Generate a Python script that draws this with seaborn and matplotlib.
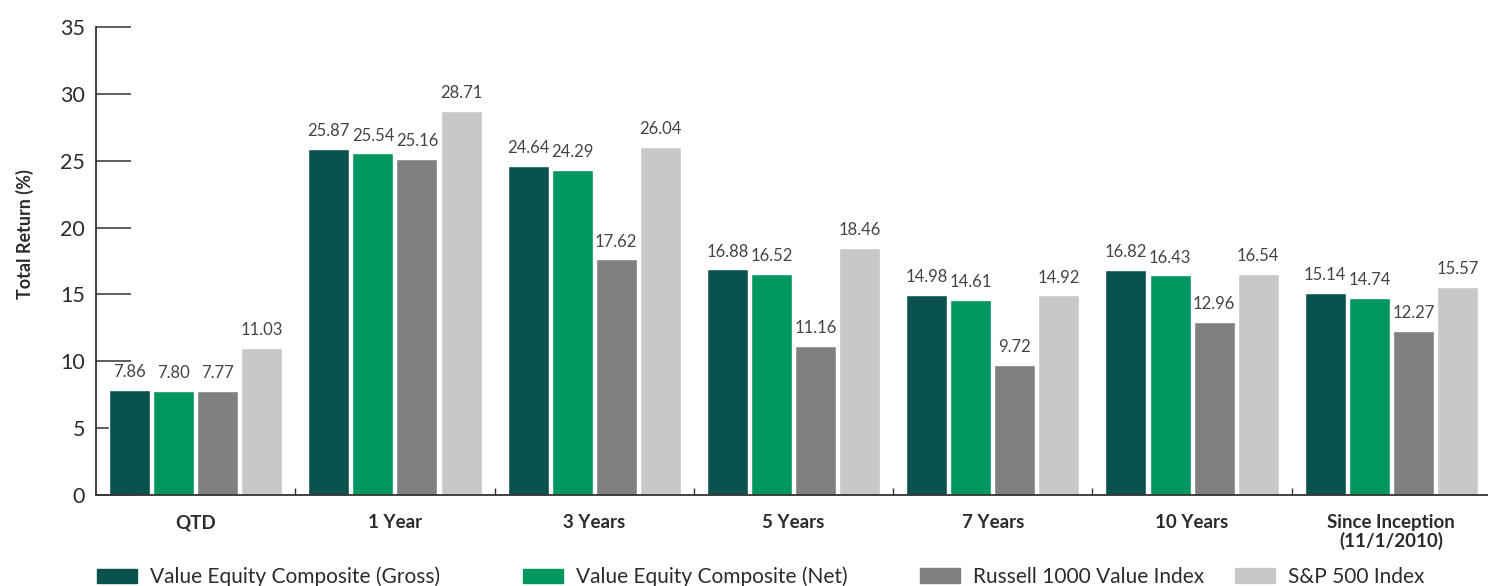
import matplotlib
matplotlib.use('Agg')
import matplotlib.pyplot as plt
import pandas as pd
import seaborn as sns

# Data
periods = ['QTD', '1 Year', '3 Years', '5 Years', '7 Years', '10 Years', 'Since Inception\n(11/1/2010)']
series = ['Value Equity Composite (Gross)', 'Value Equity Composite (Net)',
          'Russell 1000 Value Index', 'S&P 500 Index']
gross = [7.86, 25.87, 24.64, 16.88, 14.98, 16.82, 15.14]
net = [7.80, 25.54, 24.29, 16.52, 14.61, 16.43, 14.74]
russell = [7.77, 25.16, 17.62, 11.16, 9.72, 12.96, 12.27]
sp500 = [11.03, 28.71, 26.04, 18.46, 14.92, 16.54, 15.57]
colors = ['#0a524d', '#009660', '#808080', '#c8c8c7']

rows = []
for name, vals in zip(series, [gross, net, russell, sp500]):
    for p, v in zip(periods, vals):
        rows.append({'period': p, 'series': name, 'value': v})
df = pd.DataFrame(rows)

sns.set_style('white')
plt.rcParams['font.family'] = ['Lato', 'DejaVu Sans']

fig = plt.figure(figsize=(14.88, 5.86), dpi=100)
ax = fig.add_axes([96 / 1488, 1 - 495 / 586, 1 - 96 / 1488 + 0.002, (495 - 27) / 586])

sns.barplot(data=df, x='period', y='value', hue='series', order=periods, hue_order=series,
            palette=colors, width=0.885, gap=0.07, saturation=1, errorbar=None, ax=ax, legend=False)

for cont in ax.containers:
    ax.bar_label(cont, fmt='%.2f', padding=7, fontsize=12, color='#444444')

ax.set_ylim(0, 35)
ax.set_xlim(-0.5, len(periods) - 0.5)
ax.set_yticks(range(0, 36, 5))
ax.set_xticks(range(len(periods)))
ax.set_xticklabels(periods, fontsize=13.5, fontweight='bold', color='#2b2b2b', linespacing=1.05)
ax.set_xticks([i + 0.5 for i in range(len(periods) - 1)], minor=True)
ax.tick_params(axis='y', direction='in', length=25, width=1.1, color='#333333',
               labelsize=15.5, labelcolor='#2b2b2b', pad=8, left=True)
ax.tick_params(axis='x', which='major', length=0, pad=14)
ax.tick_params(axis='x', which='minor', direction='in', length=5, width=1, color='#333333', bottom=True)
ax.set_xlabel('')
ax.set_ylabel('')
fig.text(25 / 1488, 1 - 234 / 586, 'Total Return (%)', rotation=90, ha='center', va='center',
         fontsize=13, fontweight='bold', color='#2b2b2b')

for side in ['top', 'right']:
    ax.spines[side].set_visible(False)
for side in ['left', 'bottom']:
    ax.spines[side].set_color('#333333')
    ax.spines[side].set_linewidth(1.3)

# legend entries sit at fixed spots along the bottom, like the original
legend_x = [78, 504, 901, 1216]
for lx, c, name in zip(legend_x, colors, series):
    fig.legend([plt.Rectangle((0, 0), 1, 1, color=c)], [name], loc='center left',
               bbox_to_anchor=(lx / 1488, 1 - 577 / 586), frameon=False, fontsize=15,
               handlelength=1.95, handleheight=0.7, handletextpad=0.6, labelcolor='#2b2b2b')

fig.savefig('out.png', dpi=100)
